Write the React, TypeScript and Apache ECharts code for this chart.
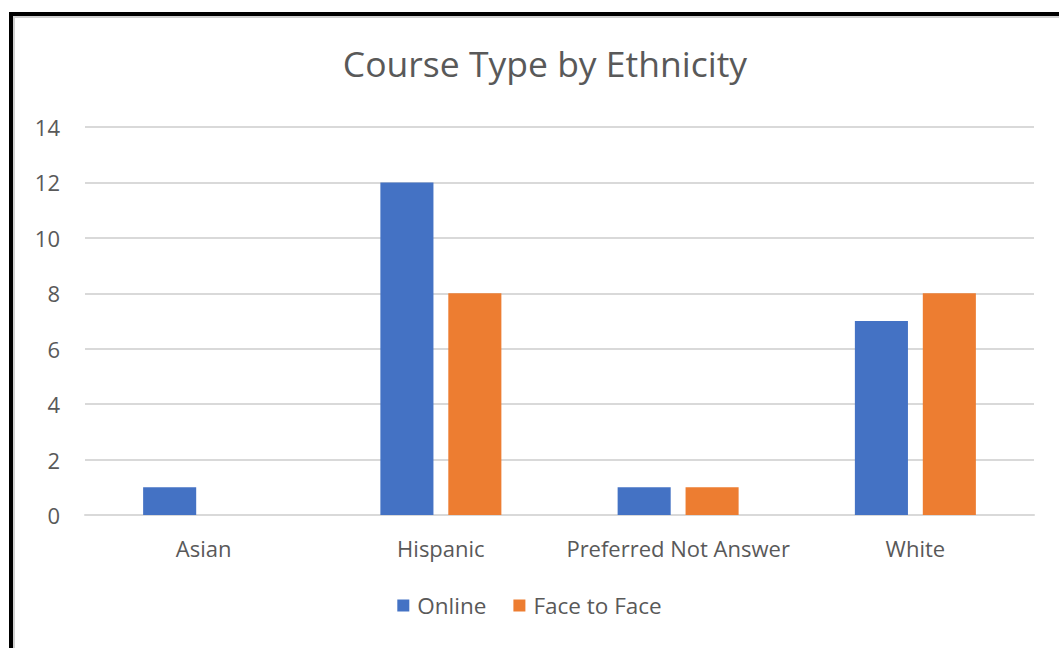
import React, { useEffect, useRef } from "react";
import * as echarts from "echarts";

const categories = ["Asian", "Hispanic", "Preferred Not Answer", "White"];
const onlineValues = [1, 12, 1, 7];
const faceToFaceValues = [0, 8, 1, 8];
const yTicks = [0, 2, 4, 6, 8, 10, 12, 14];

export default function App() {
  const ref = useRef<HTMLDivElement>(null);
  useEffect(() => {
    if (!ref.current) return;
    const chart = echarts.init(ref.current, null, { renderer: "svg" });
    const font = "Open Sans";
    chart.setOption({
      animation: false,
      backgroundColor: "#ffffff",
      title: {
        text: "Course Type by Ethnicity",
        left: 540,
        top: 40,
        textAlign: "center",
        textStyle: { fontFamily: font, fontSize: 35.5, fontWeight: "normal", color: "#595959" },
      },
      legend: {
        bottom: 26,
        left: "center",
        itemWidth: 12,
        itemHeight: 12,
        itemGap: 27,
        icon: "rect",
        textStyle: { fontFamily: font, fontSize: 22.5, color: "#595959", padding: [0, 0, 0, 3] },
        data: ["Online", "Face to Face"],
      },
      grid: { left: 85, right: 25, top: 127, bottom: 133, containLabel: false },
      xAxis: {
        type: "category",
        data: categories,
        axisTick: { show: false },
        axisLine: { lineStyle: { color: "#d9d9d9", width: 2 } },
        axisLabel: { fontFamily: font, fontSize: 22, color: "#595959", margin: 22, interval: 0 },
      },
      yAxis: {
        type: "value",
        min: yTicks[0],
        max: yTicks[yTicks.length - 1],
        interval: 2,
        axisLine: { show: false },
        axisTick: { show: false },
        splitLine: { lineStyle: { color: "#d9d9d9", width: 2 } },
        axisLabel: { fontFamily: font, fontSize: 22, color: "#595959", margin: 25 },
      },
      series: [
        {
          name: "Online",
          type: "bar",
          data: onlineValues,
          itemStyle: { color: "#4472c4" },
          barGap: "28%",
          barCategoryGap: "49%",
        },
        {
          name: "Face to Face",
          type: "bar",
          data: faceToFaceValues,
          itemStyle: { color: "#ed7d31" },
        },
      ],
      graphic: [
        { type: "rect", shape: { x: 9, y: 12, width: 4, height: 640 }, style: { fill: "#000" } },
        { type: "rect", shape: { x: 9, y: 12, width: 1050, height: 4 }, style: { fill: "#000" } },
        { type: "rect", shape: { x: 13, y: 16, width: 2, height: 640 }, style: { fill: "#d0d0d0" } },
        { type: "rect", shape: { x: 13, y: 16, width: 1046, height: 2 }, style: { fill: "#d0d0d0" } },
      ],
    });
    return () => chart.dispose();
  }, []);
  return (
    <div
      ref={ref}
      style={{ position: "absolute", left: 0, top: 0, width: 1059, height: 648 }}
    />
  );
}
